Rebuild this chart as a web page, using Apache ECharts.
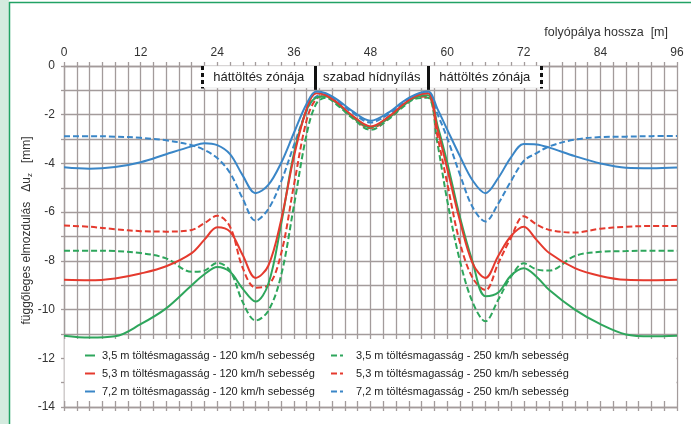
<!DOCTYPE html>
<html>
<head>
<meta charset="utf-8">
<script src="https://cdn.jsdelivr.net/npm/echarts@6/dist/echarts.min.js"></script>
<style>
html, body { margin: 0; padding: 0; background: #fff; }
#chart { width: 691px; height: 424px; }
</style>
</head>
<body>
<div id="chart"></div>
<script>
// Position along the track [m]
const positions = [0, 4, 8, 12, 16, 20, 22, 24, 26, 28, 30, 32, 34, 36, 38, 39.5, 41, 43, 45, 48,
  51, 53, 55, 57, 58.5, 60, 62, 64, 66, 68, 70, 72, 74, 76, 80, 84, 88, 92, 96];

// Vertical displacement Δu_z [mm] per embankment height and speed
const h35v120 = [-11.07, -11.15, -11.1, -10.6, -9.95, -9.0, -8.55, -8.25, -8.45, -9.15, -9.67, -8.95, -6.5, -3.6, -1.8,
  -1.3, -1.25, -1.6, -2.05, -2.52, -2.1, -1.65, -1.3, -1.2, -2.45, -3.95, -6.2, -8.05, -9.45, -9.3, -8.6, -8.3, -8.65, -9.2,
  -10.0, -10.6, -11.02, -11.1, -11.07];
const h53v120 = [-8.78, -8.8, -8.72, -8.52, -8.22, -7.68, -7.13, -6.62, -6.8, -7.77, -8.7, -8.2, -6.33, -3.73, -1.75,
  -1.12, -1.2, -1.55, -2.0, -2.48, -2.05, -1.6, -1.25, -1.12, -2.6, -4.2, -6.35, -8.1, -8.7, -7.8, -6.98, -6.6, -7.14, -7.68,
  -8.3, -8.62, -8.78, -8.8, -8.78];
const h72v120 = [-4.16, -4.22, -4.15, -3.95, -3.62, -3.3, -3.17, -3.25, -3.62, -4.5, -5.22, -4.88, -3.98, -2.75, -1.55,
  -1.05, -1.12, -1.42, -1.82, -2.25, -1.88, -1.48, -1.18, -1.05, -1.77, -2.6, -3.7, -4.7, -5.22, -4.6, -3.75, -3.2, -3.22, -3.35,
  -3.7, -4.0, -4.18, -4.2, -4.17];
const h35v250 = [-7.58, -7.58, -7.6, -7.68, -7.9, -8.45, -8.4, -8.08, -8.4, -9.7, -10.45, -10.05, -8.6, -5.75, -2.8,
  -1.55, -1.3, -1.65, -2.1, -2.62, -2.15, -1.7, -1.35, -1.3, -3.2, -5.5, -8.0, -9.7, -10.48, -9.6, -8.65, -8.1, -8.35, -8.4,
  -7.8, -7.63, -7.6, -7.58, -7.58];
const h53v250 = [-6.55, -6.6, -6.7, -6.78, -6.8, -6.73, -6.45, -6.15, -6.6, -8.3, -9.1, -9.0, -7.71, -4.9, -2.22,
  -1.35, -1.22, -1.55, -2.05, -2.55, -2.1, -1.65, -1.3, -1.25, -2.9, -4.8, -7.25, -8.7, -9.2, -8.1, -7.05, -6.17, -6.5, -6.73,
  -6.84, -6.68, -6.6, -6.57, -6.57];
const h72v250 = [-2.88, -2.88, -2.9, -2.95, -3.05, -3.25, -3.45, -3.78, -4.39, -5.45, -6.35, -5.87, -4.75, -3.26, -1.85,
  -1.25, -1.18, -1.48, -1.88, -2.32, -1.95, -1.55, -1.22, -1.12, -1.98, -2.95, -4.45, -5.8, -6.38, -5.65, -4.73, -3.9, -3.58, -3.3,
  -3.02, -2.92, -2.9, -2.88, -2.87];

// Zone boundaries along the track [m]
const backfillStartLeft = 21.6;
const spanStart = 39.4;
const spanEnd = 57;
const backfillEndRight = 74.8;
const zoneLabels = ['háttöltés zónája', 'szabad hídnyílás', 'háttöltés zónája'];

const xTickStep = 12;
const yTickStep = 2;

const names120 = [
  '3,5 m töltésmagasság - 120 km/h sebesség',
  '5,3 m töltésmagasság - 120 km/h sebesség',
  '7,2 m töltésmagasság - 120 km/h sebesség'
];
const names250 = [
  '3,5 m töltésmagasság - 250 km/h sebesség',
  '5,3 m töltésmagasság - 250 km/h sebesség',
  '7,2 m töltésmagasság - 250 km/h sebesség'
];

const GREEN = '#2ea65c';
const RED = '#e53a2e';
const BLUE = '#3a86c7';
const GRID = '#a39b9b';
const FONT = '"Liberation Sans", Arial, Helvetica, sans-serif';

const pairs = arr => positions.map((x, i) => [x, arr[i]]);

function curve(name, values, color, dashed) {
  return {
    name: name,
    type: 'line',
    data: pairs(values),
    smooth: 0.35,
    symbol: 'none',
    showSymbol: false,
    silent: true,
    lineStyle: { color: color, width: 2, type: dashed ? [6, 3] : 'solid' },
    itemStyle: { color: color },
    z: dashed ? 3 : 4
  };
}

const series = [
  curve(names250[0], h35v250, GREEN, true),
  curve(names250[1], h53v250, RED, true),
  curve(names250[2], h72v250, BLUE, true),
  curve(names120[0], h35v120, GREEN, false),
  curve(names120[1], h53v120, RED, false),
  curve(names120[2], h72v120, BLUE, false)
];

// Zone header boxes and boundary markers along the top edge
series[0].markArea = {
  silent: true,
  itemStyle: { color: '#ffffff', opacity: 1, borderColor: '#d8d8d8', borderWidth: 0.5 },
  label: { show: true, position: 'inside', color: '#222', fontSize: 13, fontFamily: FONT },
  data: [
    [{ name: zoneLabels[0], xAxis: backfillStartLeft, yAxis: 0 }, { xAxis: spanStart, yAxis: -0.9 }],
    [{ name: zoneLabels[1], xAxis: spanStart, yAxis: 0 }, { xAxis: spanEnd, yAxis: -0.9 }],
    [{ name: zoneLabels[2], xAxis: spanEnd, yAxis: 0 }, { xAxis: backfillEndRight, yAxis: -0.9 }]
  ]
};
series[0].markLine = {
  silent: true,
  symbol: ['none', 'none'],
  label: { show: false },
  lineStyle: { color: '#111', width: 3, type: 'solid' },
  data: [
    [{ coord: [backfillStartLeft, 0], lineStyle: { type: [4, 3], color: '#111', width: 3 } }, { coord: [backfillStartLeft, -0.92] }],
    [{ coord: [spanStart, 0] }, { coord: [spanStart, -0.98] }],
    [{ coord: [spanEnd, 0] }, { coord: [spanEnd, -0.98] }],
    [{ coord: [backfillEndRight, 0], lineStyle: { type: [4, 3], color: '#111', width: 3 } }, { coord: [backfillEndRight, -0.92] }]
  ]
};

const legendBase = {
  orient: 'vertical',
  top: 345,
  itemWidth: 10,
  itemHeight: 12,
  itemGap: 7,
  selectedMode: false,
  // line-only keys: hide the marker dot drawn in the middle of each key
  itemStyle: { opacity: 0 },
  textStyle: { fontSize: 11, color: '#222', fontFamily: FONT, padding: [0, 0, 0, 2] }
};

const chart = echarts.init(document.getElementById('chart'), null, { renderer: 'canvas' });
chart.setOption({
  animation: false,
  backgroundColor: '#ffffff',
  textStyle: { fontFamily: FONT },
  title: {
    text: 'folyópálya hossza  [m]',
    right: 18,
    top: 21,
    textStyle: { fontSize: 12.5, fontWeight: 'normal', color: '#333', fontFamily: FONT }
  },
  grid: { left: 64, right: 14, top: 66, bottom: 17, containLabel: false },
  xAxis: [
    {
      type: 'value', position: 'top', min: 0, max: 96, interval: 2,
      axisLine: { show: true, lineStyle: { color: GRID, width: 1.3 } },
      axisTick: { show: true, length: 4, lineStyle: { color: GRID, width: 1.3 } },
      axisLabel: {
        margin: 7, color: '#333', fontSize: 12, fontFamily: FONT,
        formatter: v => (v % xTickStep === 0 ? String(v) : '')
      },
      splitLine: { show: true, lineStyle: { color: GRID, width: 1.3 } }
    },
    {
      type: 'value', position: 'bottom', min: 0, max: 96, interval: 2,
      axisLine: { show: true, lineStyle: { color: GRID, width: 1.3 } },
      axisTick: { show: true, length: 4, lineStyle: { color: GRID, width: 1.3 } },
      axisLabel: { show: false },
      splitLine: { show: false }
    }
  ],
  yAxis: {
    type: 'value', min: -14, max: 0, interval: 1,
    name: 'függőleges elmozdulás   Δu{z|z}   [mm]',
    nameLocation: 'middle',
    nameRotate: 90,
    nameGap: 30,
    nameMoveOverlap: false,
    nameTextStyle: {
      fontSize: 12, color: '#333', fontFamily: FONT, padding: [0, 0, 0, 12],
      rich: { z: { fontSize: 8, color: '#333', fontFamily: FONT, padding: [6, 0, 0, 0] } }
    },
    axisLine: { show: true, lineStyle: { color: GRID, width: 1.3 } },
    axisTick: { show: true, length: 3, lineStyle: { color: GRID, width: 1.3 } },
    axisLabel: {
      margin: 9, color: '#333', fontSize: 12, fontFamily: FONT,
      formatter: v => (v % yTickStep === 0 ? String(v) : '')
    },
    splitLine: { show: true, lineStyle: { color: GRID, width: 1.3 } }
  },
  legend: [
    Object.assign({}, legendBase, { left: 79, data: names120 }),
    Object.assign({}, legendBase, {
      left: 325, itemWidth: 12, data: names250,
      textStyle: { fontSize: 11, color: '#222', fontFamily: FONT, padding: [0, 0, 0, 8] }
    })
  ],
  graphic: [
    { type: 'rect', shape: { x: 0, y: 0, width: 9, height: 424 }, style: { fill: '#d4ebdf' }, z: 1 },
    { type: 'line', shape: { x1: 9.5, y1: 2, x2: 9.5, y2: 424 }, style: { stroke: '#22a265', lineWidth: 1.5 }, z: 1 },
    { type: 'line', shape: { x1: 9, y1: 2.5, x2: 691, y2: 2.5 }, style: { stroke: '#22a265', lineWidth: 1.5 }, z: 1 },
    // white panel behind the legend
    { type: 'rect', shape: { x: 64.5, y: 339, width: 612, height: 62 }, style: { fill: '#ffffff' }, z: 1 }
  ],
  series: series
});
</script>
</body>
</html>
